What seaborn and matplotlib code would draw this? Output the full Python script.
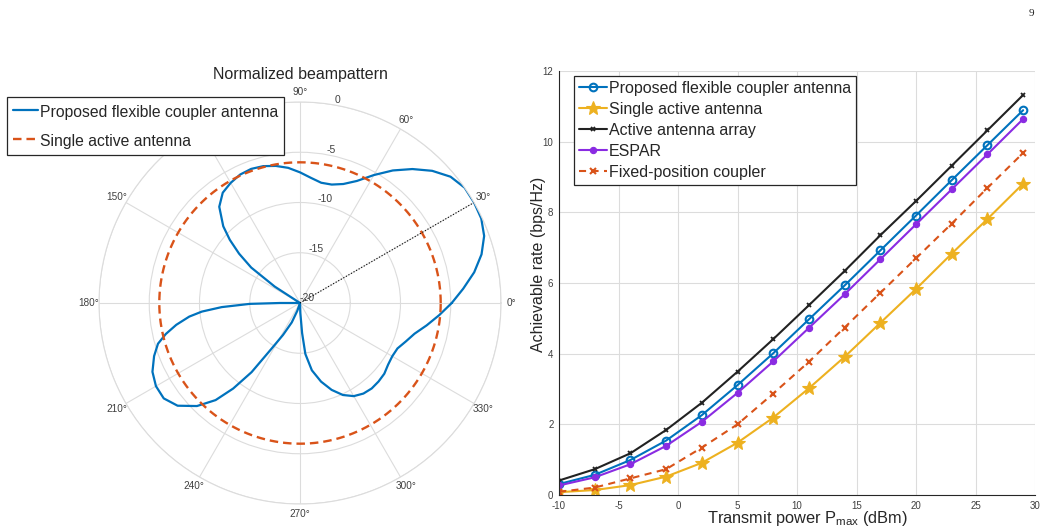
import numpy as np
import matplotlib
matplotlib.use("Agg")
import matplotlib.pyplot as plt
import seaborn as sns

# left panel: normalized beampattern in dB
beam_deg = [0, 5, 10, 15, 20, 25, 30, 35, 40, 45, 50, 55, 60, 65, 70, 75, 80, 85, 90, 95,
            100, 105, 110, 115, 120, 125, 130, 135, 138, 141, 144, 147, 150, 179, 180, 181,
            183, 185, 187, 190, 193, 196, 200, 205, 210, 215, 220, 225, 229, 232, 235, 238,
            242, 247, 251, 253, 270, 272, 274, 276, 280, 285, 290, 295, 300, 305, 310, 315,
            320, 325, 330, 335, 340, 345, 350, 355, 360]
beam_db = [-4.9, -3.7, -2.4, -1.3, -0.5, -0.1, 0.0, 0.0, -0.45, -1.4, -2.6, -3.9, -5.3, -6.6,
           -7.4, -7.8, -7.85, -7.5, -7.0, -6.5, -6.15, -5.9, -5.8, -5.9, -6.2, -6.6, -7.5,
           -9.2, -10.6, -12.2, -14.0, -17.0, -20.0, -20.0, -18.0, -15.0, -12.2, -10.2, -8.9,
           -7.5, -6.3, -5.3, -4.55, -3.8, -3.45, -3.45, -4.1, -5.5, -7.2, -9.2, -11.6, -14.6,
           -16.4, -17.9, -19.2, -20.0, -20.0, -19.0, -17.0, -14.9, -13.2, -11.9, -10.8, -9.9,
           -9.3, -9.0, -8.9, -8.95, -9.05, -9.3, -9.4, -9.3, -8.8, -8.2, -7.2, -6.1, -4.9]
single_db = -6.0
target_deg = 30
r_ticks = [-20, -15, -10, -5, 0]

# right panel: achievable rate vs transmit power
pmax = [-10, -7, -4, -1, 2, 5, 8, 11, 14, 17, 20, 23, 26, 29]
rate_flex = [0.31, 0.57, 0.99, 1.54, 2.26, 3.11, 4.01, 4.97, 5.93, 6.92, 7.91, 8.91, 9.90, 10.89]
rate_single = [0.08, 0.14, 0.28, 0.52, 0.91, 1.48, 2.19, 3.02, 3.91, 4.87, 5.83, 6.83, 7.81, 8.81]
rate_array = [0.41, 0.73, 1.18, 1.84, 2.61, 3.49, 4.41, 5.37, 6.34, 7.35, 8.32, 9.32, 10.32, 11.32]
rate_espar = [0.27, 0.50, 0.87, 1.39, 2.07, 2.89, 3.78, 4.73, 5.68, 6.67, 7.66, 8.65, 9.64, 10.64]
rate_fixed = [0.09, 0.21, 0.47, 0.73, 1.34, 2.00, 2.87, 3.77, 4.74, 5.72, 6.70, 7.68, 8.69, 9.68]

BLUE, ORANGE, YELLOW, PURPLE, BLACK = '#0072BD', '#D95319', '#EDB120', '#8A2BE2', '#222222'
GRID = '#DCDCDC'
TXT = '#404040'

sns.set_style("white")
plt.rcParams['font.family'] = ['Liberation Sans', 'DejaVu Sans']
plt.rcParams['mathtext.fontset'] = 'custom'
plt.rcParams['mathtext.rm'] = 'Liberation Sans'
plt.rcParams['mathtext.it'] = 'Liberation Sans:italic'
plt.rcParams['axes.unicode_minus'] = False

W, H = 1047, 526
fig = plt.figure(figsize=(W / 100, H / 100), dpi=100)

# ---- polar beampattern ----
axp = fig.add_axes([99 / W, 1 - 504 / H, 402 / W, 402 / H], projection='polar')
circle_deg = np.arange(0, 361, 2)
sns.lineplot(x=np.deg2rad(beam_deg), y=beam_db, ax=axp, sort=False, estimator=None,
             color=BLUE, lw=1.6, label='Proposed flexible coupler antenna', legend=False)
axp.plot(np.deg2rad(circle_deg), [single_db] * len(circle_deg), color=ORANGE, lw=1.7,
         dashes=(3.6, 2.1), label='Single active antenna')
axp.plot([np.deg2rad(target_deg)] * 2, [r_ticks[0], r_ticks[-1]], ':', color='black', lw=0.8)
axp.set_ylim(r_ticks[0], r_ticks[-1])
axp.set_thetagrids(np.arange(0, 360, 30), labels=[f'{a}°' for a in range(0, 360, 30)],
                   fontsize=7.2, color=TXT)
axp.tick_params(axis='x', pad=-3)
axp.set_rgrids(r_ticks, labels=[str(t) for t in r_ticks], angle=80, fontsize=7.5, color=TXT)
axp.grid(True, color=GRID, lw=0.8)
axp.spines['polar'].set_color(GRID)
axp.spines['polar'].set_linewidth(0.8)
axp.set_xlabel('')
axp.set_ylabel('')
axp.set_title('Normalized beampattern', fontsize=11.5, y=1.057, pad=0, color='#262626')
lg = axp.legend(loc='upper left', bbox_to_anchor=(7 / W, 1 - 97 / H),
                bbox_transform=fig.transFigure, borderaxespad=0, fontsize=11.3, fancybox=False,
                framealpha=1, edgecolor='#262626', handlelength=1.6, handleheight=1.3,
                handletextpad=0.1, labelspacing=0.75, borderpad=0.38)
lg.get_frame().set_linewidth(0.9)

# ---- achievable rate ----
ax = fig.add_axes([559 / W, 1 - 495 / H, 476 / W, 424 / H])
sns.lineplot(x=pmax, y=rate_flex, ax=ax, color=BLUE, lw=1.5, marker='o', markersize=5.5,
             markerfacecolor='none', markeredgecolor=BLUE, markeredgewidth=1.5,
             label='Proposed flexible coupler antenna', legend=False, errorbar=None)
sns.lineplot(x=pmax, y=rate_single, ax=ax, color=YELLOW, lw=1.5, marker='*', markersize=10,
             markerfacecolor=YELLOW, markeredgecolor=YELLOW, markeredgewidth=0.8,
             label='Single active antenna', legend=False, errorbar=None)
sns.lineplot(x=pmax, y=rate_array, ax=ax, color=BLACK, lw=1.5, marker='x', markersize=3.5,
             markeredgecolor=BLACK, markeredgewidth=1.3,
             label='Active antenna array', legend=False, errorbar=None)
sns.lineplot(x=pmax, y=rate_espar, ax=ax, color=PURPLE, lw=1.5, marker='o', markersize=4.5,
             markerfacecolor=PURPLE, markeredgecolor=PURPLE, markeredgewidth=0.8,
             label='ESPAR', legend=False, errorbar=None)
sns.lineplot(x=pmax, y=rate_fixed, ax=ax, color=ORANGE, lw=1.5, marker='x', markersize=4,
             markeredgecolor=ORANGE, markeredgewidth=1.5, dashes=False, linestyle=(0, (3.4, 2.6)),
             label='Fixed-position coupler', legend=False, errorbar=None)

ax.set_xlim(-10, 30)
ax.set_ylim(0, 12)
ax.set_xticks(range(-10, 31, 5))
ax.set_yticks(range(0, 13, 2))
ax.grid(True, color=GRID, lw=0.8)
ax.set_axisbelow(True)
for s in ['top', 'right']:
    ax.spines[s].set_visible(False)
for s in ['left', 'bottom']:
    ax.spines[s].set_color('#262626')
    ax.spines[s].set_linewidth(0.8)
ax.tick_params(direction='in', length=4, width=0.8, color='#262626', labelsize=7,
               labelcolor=TXT, pad=4)
ax.set_xlabel(r'Transmit power P$_{\mathregular{max}}$ (dBm)', fontsize=11.8, color='#262626')
ax.set_ylabel('Achievable rate (bps/Hz)', fontsize=11.5, color='#262626')
ax.xaxis.set_label_coords(0.521, -0.034)
ax.yaxis.set_label_coords(-0.027, 0.545)
leg = ax.legend(loc='upper left', bbox_to_anchor=(574 / W, 1 - 76 / H),
                bbox_transform=fig.transFigure, borderaxespad=0, fontsize=11.5, fancybox=False,
                framealpha=1, edgecolor='#262626', handlelength=1.75, handletextpad=0.15,
                labelspacing=0.38, borderpad=0.3)
leg.get_frame().set_linewidth(0.9)

fig.text(1031 / W, 1 - 14 / H, '9', family='Liberation Serif', fontsize=8, ha='center',
         va='center')

fig.savefig('out.png', dpi=100)
